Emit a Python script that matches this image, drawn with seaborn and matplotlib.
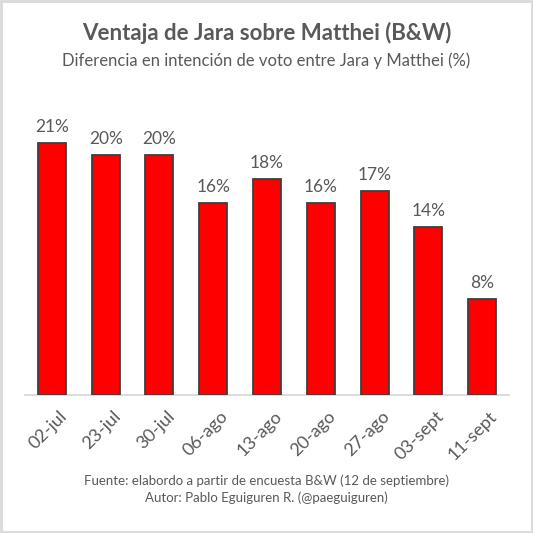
import matplotlib
matplotlib.use("Agg")
import matplotlib.pyplot as plt
import matplotlib.transforms as mtransforms
import seaborn as sns
import pandas as pd
from matplotlib.patches import Rectangle

fechas = ["02-jul", "23-jul", "30-jul", "06-ago", "13-ago", "20-ago", "27-ago", "03-sept", "11-sept"]
ventaja = [21, 20, 20, 16, 18, 16, 17, 14, 8]
titulo = "Ventaja de Jara sobre Matthei (B&W)"
subtitulo = "Diferencia en intención de voto entre Jara y Matthei (%)"
fuente = "Fuente: elabordo a partir de encuesta B&W (12 de septiembre)"
autor = "Autor: Pablo Eguiguren R. (@paeguiguren)"

sns.set_theme(style="white")
plt.rcParams["font.family"] = ["Lato", "DejaVu Sans"]

TXT = "#595959"
df = pd.DataFrame({"fecha": fechas, "ventaja": ventaja})

fig = plt.figure(figsize=(5.33, 5.33), dpi=100)
ax = fig.add_axes([0.0469, 0.258, 0.908, 0.564])
sns.barplot(data=df, x="fecha", y="ventaja", color="#FF0000", saturation=1,
            width=0.52, edgecolor="#404040", linewidth=1.3, ax=ax)
ax.set_ylim(0, 25)
ax.set_xlim(-0.5, len(fechas) - 0.5)
ax.set_xlabel("")
ax.set_ylabel("")
ax.set_yticks([])
for s in ["top", "right", "left"]:
    ax.spines[s].set_visible(False)
ax.spines["bottom"].set_color("#D9D9D9")
ax.spines["bottom"].set_linewidth(1.3)
ax.spines["bottom"].set_zorder(0)
ax.tick_params(axis="x", length=0, pad=9)
ax.set_xticks(range(len(fechas)))
ax.set_xticklabels(fechas, rotation=45, ha="right", rotation_mode="anchor",
                   fontsize=13, color=TXT)
off = mtransforms.ScaledTranslation(5 / 72, 0, fig.dpi_scale_trans)
for lbl in ax.get_xticklabels():
    lbl.set_transform(lbl.get_transform() + off)
for c in ax.containers:
    ax.bar_label(c, labels=[f"{v}%" for v in ventaja], padding=6,
                 fontsize=12.5, color=TXT)

fig.text(0.5, 0.938, titulo, ha="center", va="center", fontsize=16,
         fontweight="bold", color=TXT)
fig.text(0.5, 0.887, subtitulo, ha="center", va="center", fontsize=12, color=TXT)
fig.text(0.5, 0.099, fuente, ha="center", va="center", fontsize=9.5, color=TXT)
fig.text(0.5, 0.066, autor, ha="center", va="center", fontsize=9.5, color=TXT)

fig.patches.append(Rectangle((0.002, 0.002), 0.996, 0.996, transform=fig.transFigure,
                             fill=False, edgecolor="#D9D9D9", linewidth=2))
fig.savefig("out.png", dpi=100, facecolor="white")
